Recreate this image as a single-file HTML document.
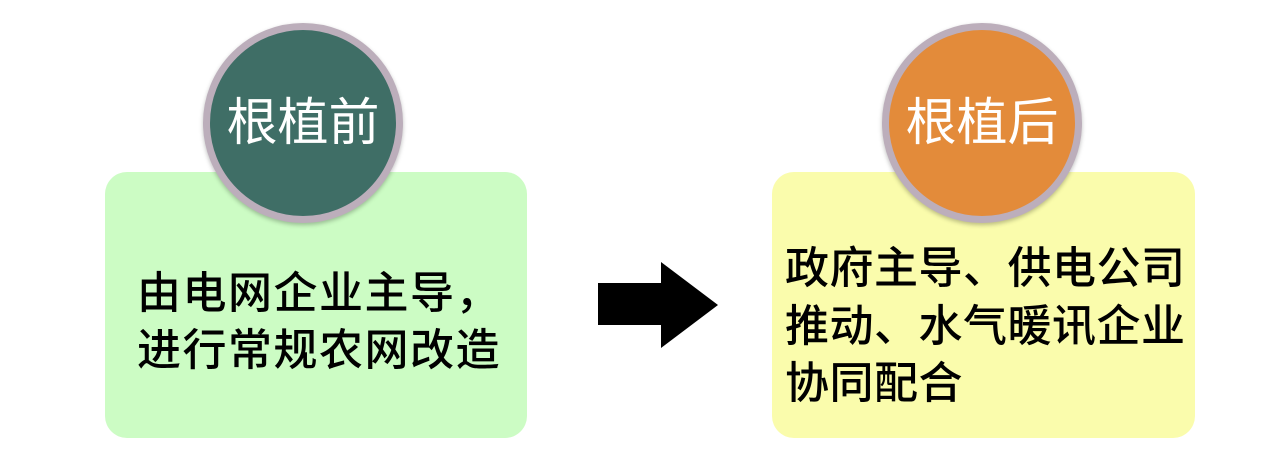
<!DOCTYPE html>
<html><head><meta charset="utf-8"><style>
body{margin:0;width:1265px;height:465px;background:#fff;position:relative;overflow:hidden;font-family:"Liberation Sans","Noto Sans CJK SC",sans-serif}
.box{position:absolute;top:172px;height:266px;border-radius:22px}
.c{position:absolute;width:186px;height:186px;border-radius:50%;border:7px solid #bcaebb;top:23px;color:#fff;font-size:51px;text-align:center;line-height:186px;box-shadow:0 2px 4px rgba(0,0,0,.25)}
.t{position:absolute;font-size:44px;color:#000;white-space:nowrap;font-weight:500}
</style></head><body>
<div class="box" style="left:105px;width:422px;background:#ccfcc4"></div>
<div class="box" style="left:772px;width:423px;background:#fafcac"></div>
<div class="c" style="left:203px;background:#3f6e66">根植前</div>
<div class="c" style="left:882px;background:#e38b3a">根植后</div>
<div class="t" style="left:137px;top:265px;line-height:57px;letter-spacing:1.5px">由电网企业主导，<br>进行常规农网改造</div>
<div class="t" style="left:785px;top:240px;line-height:57.5px;letter-spacing:0.5px">政府主导、供电公司<br>推动、水气暖讯企业<br>协同配合</div>
<svg style="position:absolute;left:0;top:0" width="1265" height="465"><polygon points="598,283 661,283 661,262 718,305 661,348 661,325 598,325" fill="#000"/></svg>
</body></html>
